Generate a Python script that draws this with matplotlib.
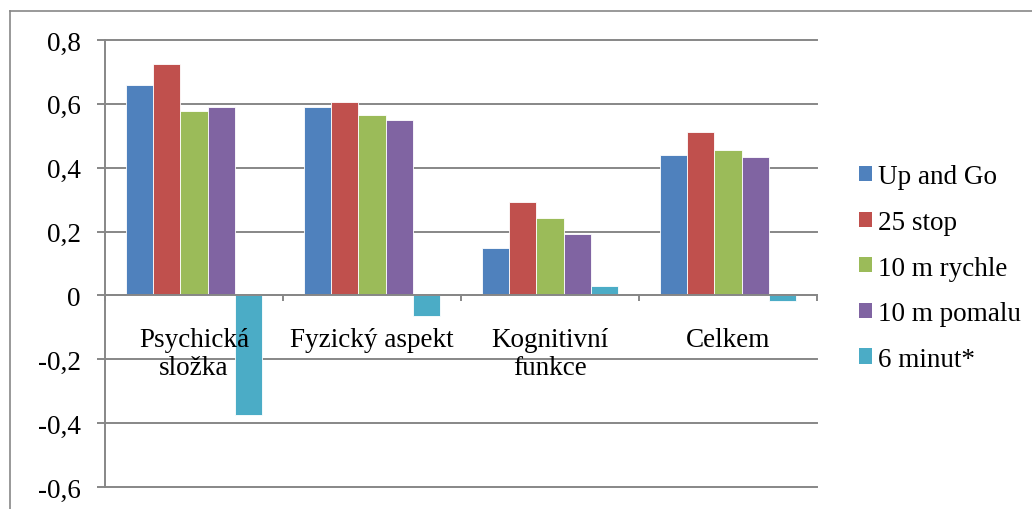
import matplotlib
matplotlib.use("Agg")
import matplotlib.pyplot as plt
import matplotlib.transforms as mtransforms
from matplotlib.lines import Line2D
from matplotlib.patches import Patch
import numpy as np

categories = ["Psychická\nsložka", "Fyzický aspekt", "Kognitivní\nfunkce", "Celkem"]
series_names = ["Up and Go", "25 stop", "10 m rychle", "10 m pomalu", "6 minut*"]
up_and_go = [0.66, 0.589, 0.147, 0.439]
stop_25 = [0.726, 0.607, 0.293, 0.513]
rychle_10m = [0.577, 0.564, 0.242, 0.457]
pomalu_10m = [0.589, 0.550, 0.193, 0.433]
minut_6 = [-0.373, -0.064, 0.031, -0.019]
series_values = [up_and_go, stop_25, rychle_10m, pomalu_10m, minut_6]
colors = ["#4F81BD", "#C0504D", "#9BBB59", "#8064A2", "#4BACC6"]
y_ticks = [-0.6, -0.4, -0.2, 0.0, 0.2, 0.4, 0.6, 0.8]
y_tick_labels = ["-0,6", "-0,4", "-0,2", "0", "0,2", "0,4", "0,6", "0,8"]

plt.rcParams["font.family"] = ["Liberation Serif", "DejaVu Serif"]
FS = 19.5
GRID = "#878787"

W, H = 1032, 510
fig = plt.figure(figsize=(W / 100, H / 100), dpi=100)
ax = fig.add_axes([105 / W, (H - 488) / H, 712 / W, 447 / H])

n_series = len(series_values)
gap = 1.5
bar_w = 1.0 / (n_series + gap)
x = np.arange(len(categories))
for i, (vals, col, name) in enumerate(zip(series_values, colors, series_names)):
    offs = -0.5 + (gap / 2 + i + 0.5) * bar_w
    ax.bar(x + offs, vals, width=bar_w, color=col, edgecolor="white",
           linewidth=0.6, label=name, zorder=3)

ax.set_xlim(-0.5, len(categories) - 0.5)
ax.set_ylim(-0.6, 0.8)
ax.set_yticks(y_ticks)
ax.set_yticklabels(y_tick_labels, fontsize=FS)
ax.yaxis.grid(True, color=GRID, linewidth=1.4, zorder=0)
for gl in ax.get_ygridlines():
    gl.set_clip_on(False)
ax.set_axisbelow(True)

for s in ["top", "right"]:
    ax.spines[s].set_visible(False)
ax.spines["left"].set_color(GRID)
ax.spines["left"].set_linewidth(1.4)
ax.spines["bottom"].set_position(("data", 0))
ax.spines["bottom"].set_color(GRID)
ax.spines["bottom"].set_linewidth(1.4)
ax.spines["bottom"].set_zorder(4)

ax.tick_params(axis="y", direction="out", length=5.5, width=1.4, color=GRID,
               pad=12, labelsize=FS)

# boundary ticks on the zero line
ax.set_xticks(np.arange(len(categories) + 1) - 0.5)
ax.set_xticklabels([])
ax.tick_params(axis="x", direction="out", length=4.5, width=1.4, color=GRID)

# category labels just below the zero line, drawn above the bars
label_tr = mtransforms.offset_copy(ax.transData, fig=fig, y=-23, units="points")
for xi, cat in zip(x, categories):
    ax.text(xi, 0, cat, transform=label_tr, ha="center", va="top",
            fontsize=FS, linespacing=1.15, zorder=6, clip_on=False)

handles = [Patch(facecolor=c, edgecolor="none") for c in colors]
fig.legend(handles, series_names, loc="center left",
           bbox_to_anchor=(859 / W, (H - 269) / H), frameon=False,
           fontsize=FS, handlelength=0.48, handleheight=0.48,
           handletextpad=0.22, labelspacing=0.76, borderpad=0,
           borderaxespad=0)

# outer chart frame
fx0, fy0 = 10 / W, (H - 12) / H
fig.add_artist(Line2D([fx0, 1.0], [fy0, fy0], transform=fig.transFigure,
                      color=GRID, linewidth=1.2))
fig.add_artist(Line2D([fx0, fx0], [fy0, 0.0], transform=fig.transFigure,
                      color=GRID, linewidth=1.2))

fig.savefig("out.png", dpi=100, facecolor="white")
